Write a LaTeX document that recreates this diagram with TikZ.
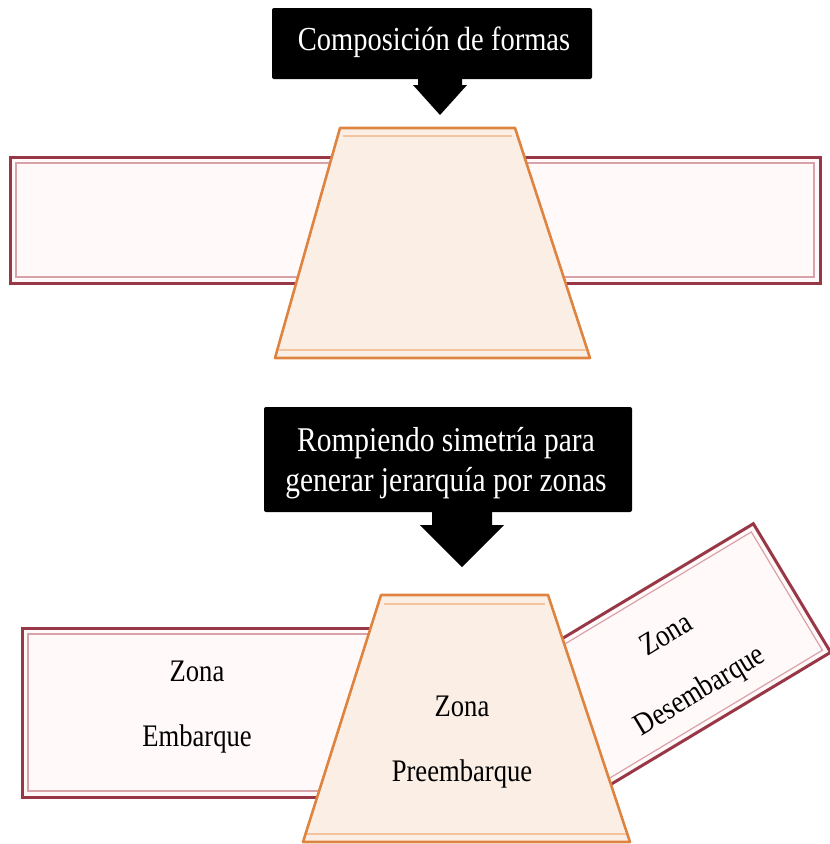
\documentclass[tikz,border=0pt]{standalone}
\usepackage{fontspec}
\setmainfont{Liberation Serif}
\definecolor{zoneborder}{HTML}{983846}
\definecolor{zoneinner}{HTML}{D9A2A8}
\definecolor{zonefill}{HTML}{FFF9F9}
\definecolor{trapborder}{HTML}{DE8440}
\definecolor{trapinner}{HTML}{F3C49E}
\definecolor{trapfill}{HTML}{FBEEE4}
\newcommand\tallt[1]{\scalebox{0.95}[1.12]{#1}}
\begin{document}
\begin{tikzpicture}[x=1pt,y=-1pt,
  zonebox/.style={draw=zoneborder,line width=3pt,fill=zonefill},
  zoneline/.style={draw=zoneinner,line width=1.2pt},
  trapbox/.style={draw=trapborder,line width=2.6pt,fill=trapfill,line join=round},
  trapline/.style={draw=trapinner,line width=1.2pt},
  blackbox/.style={fill=black,rounded corners=2pt},
  blockarrow/.style={fill=black,line join=round},
  lbl/.style={font=\fontsize{28}{65}\selectfont,align=center,text=black},
  toplbl/.style={font=\fontsize{30}{40}\selectfont,align=center,text=white}]
\useasboundingbox (0,0) rectangle (830,844);

% ---------- top part ----------
\fill[blackbox] (272,8) rectangle (592,79);
\node[toplbl] (t1) at (434,42) {\tallt{Composición de formas}};
\fill[blockarrow] (418,79) -- (462,79) -- (462,85) -- (467,85) -- (440,115) -- (413,85) -- (418,85) -- cycle;

\draw[zonebox] (10,157) rectangle (820,283);
\draw[zoneline] (16,163) rectangle (814,277);

\draw[trapbox] (340,128) -- (515,128) -- (590,358) -- (275,358) -- cycle;
\draw[trapline] (343,136) -- (512,136);
\draw[trapline] (279,350) -- (586,350);

% ---------- bottom part ----------
\fill[blackbox] (264,407) rectangle (632,512);
\node[toplbl,font=\fontsize{31}{40}\selectfont] (t2) at (446,463) {\tallt{Rompiendo simetría para}\\\tallt{generar jerarquía por zonas}};
\fill[blockarrow] (432,512) -- (492,512) -- (492,525) -- (504,525) -- (462,567) -- (420,525) -- (432,525) -- cycle;

% left zone
\draw[zonebox] (22,628) rectangle (430,797);
\draw[zoneline] (28,634) rectangle (424,791);
\node[lbl] (emb) at (197,707) {\tallt{Zona}\\\tallt{Embarque}};

% rotated zone
\begin{scope}[shift={(792,588)},rotate=31]
  \draw[zonebox] (-320,-75) rectangle (0,75);
  \draw[zoneline] (-314,-69) rectangle (-6,69);
  \node[lbl,transform shape] (des) at (-132,10) {\tallt{Zona}\\\tallt{Desembarque}};
\end{scope}

% central trapezoid
\draw[trapbox] (381,595) -- (548,595) -- (630,842) -- (303,842) -- cycle;
\draw[trapline] (384,604) -- (545,604);
\draw[trapline] (307,834) -- (626,834);
\node[lbl] (pre) at (462,742) {\tallt{Zona}\\\tallt{Preembarque}};
\end{tikzpicture}
\end{document}
